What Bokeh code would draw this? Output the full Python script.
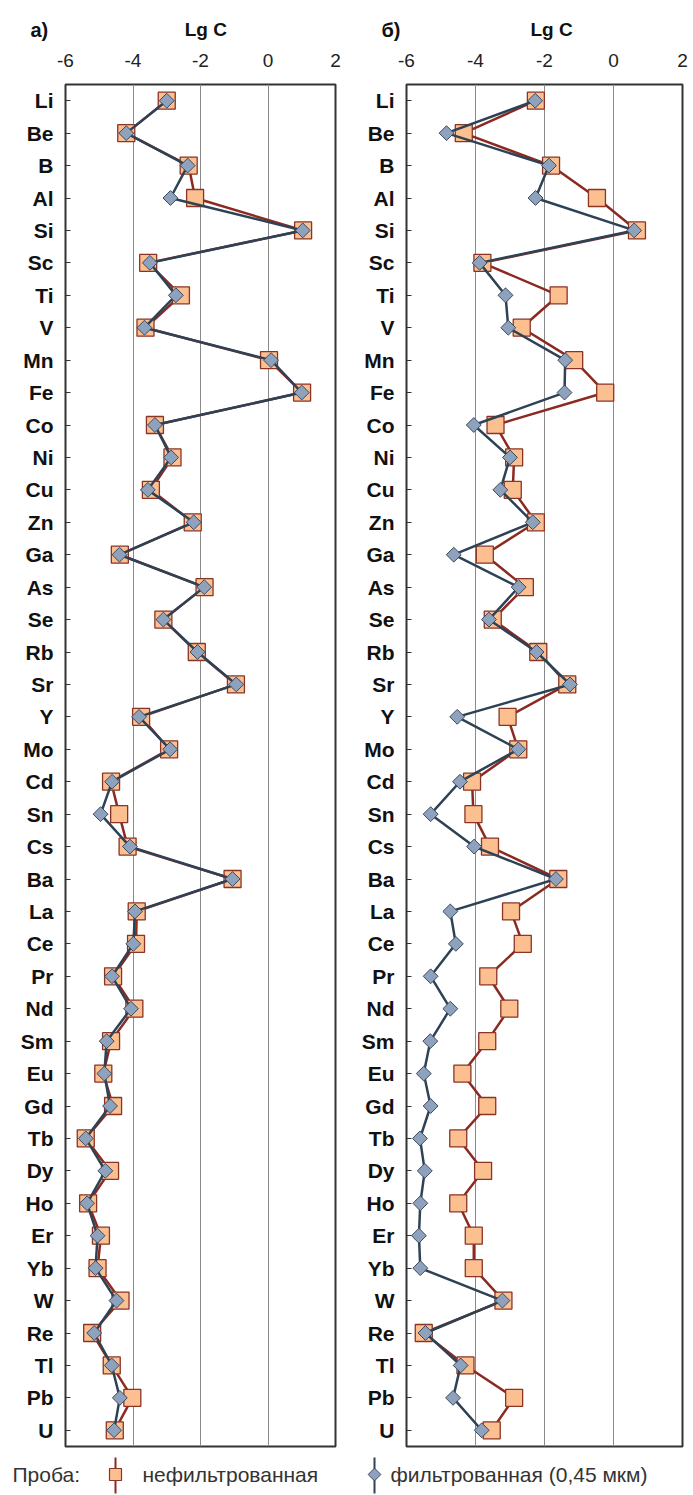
import numpy as np
from bokeh.plotting import figure
from bokeh.models import Range1d, FactorRange, FixedTicker, ColumnDataSource
from bokeh.layouts import column, row
from bokeh.embed import file_html
from bokeh.resources import INLINE
from bokeh.core.properties import value

elements = ["Li", "Be", "B", "Al", "Si", "Sc", "Ti", "V", "Mn", "Fe", "Co", "Ni", "Cu", "Zn",
            "Ga", "As", "Se", "Rb", "Sr", "Y", "Mo", "Cd", "Sn", "Cs", "Ba", "La", "Ce", "Pr",
            "Nd", "Sm", "Eu", "Gd", "Tb", "Dy", "Ho", "Er", "Yb", "W", "Re", "Tl", "Pb", "U"]

# panel а) : lg C, unfiltered / filtered (0.45 um)
a_unfiltered = [-3.0, -4.2, -2.35, -2.16, 1.04, -3.55, -2.58, -3.63, 0.03, 1.01, -3.35, -2.83, -3.47, -2.23,
                -4.39, -1.88, -3.10, -2.11, -0.95, -3.76, -2.93, -4.65, -4.41, -4.16, -1.05, -3.89, -3.91, -4.59,
                -3.96, -4.65, -4.88, -4.59, -5.40, -4.68, -5.33, -4.95, -5.05, -4.37, -5.21, -4.63, -4.02, -4.54]
a_filtered = [-3.0, -4.2, -2.38, -2.89, 1.03, -3.50, -2.73, -3.66, 0.09, 1.00, -3.35, -2.87, -3.56, -2.20,
              -4.40, -1.89, -3.10, -2.09, -0.94, -3.82, -2.90, -4.62, -4.96, -4.09, -1.05, -3.94, -3.99, -4.62,
              -4.06, -4.78, -4.85, -4.68, -5.40, -4.82, -5.36, -5.05, -5.11, -4.49, -5.15, -4.63, -4.39, -4.56]

# panel б)
b_unfiltered = [-2.25, -4.34, -1.81, -0.48, 0.68, -3.80, -1.59, -2.66, -1.14, -0.24, -3.42, -2.88, -2.92, -2.25,
                -3.73, -2.57, -3.50, -2.18, -1.34, -3.07, -2.76, -4.10, -4.06, -3.58, -1.60, -2.97, -2.63, -3.63,
                -3.02, -3.66, -4.38, -3.66, -4.50, -3.78, -4.50, -4.05, -4.05, -3.19, -5.50, -4.29, -2.88, -3.53]
b_filtered = [-2.27, -4.84, -1.87, -2.26, 0.60, -3.88, -3.13, -3.05, -1.40, -1.42, -4.05, -3.00, -3.28, -2.34,
              -4.63, -2.75, -3.61, -2.23, -1.26, -4.53, -2.76, -4.45, -5.30, -4.04, -1.67, -4.73, -4.57, -5.30,
              -4.73, -5.31, -5.50, -5.30, -5.61, -5.47, -5.60, -5.64, -5.60, -3.22, -5.45, -4.43, -4.65, -3.82]

x_ticks = [-6, -4, -2, 0, 2]
grid_ticks = [-4, -2, 0]
panel_letters = ["а)", "б)"]
axis_titles = ["Lg  C", "Lg C"]
legend_title = "Проба:"
legend_labels = ["нефильтрованная", "фильтрованная (0,45 мкм)"]

FONT = "Liberation Sans"
RED_LINE = "#8c2a22"
SQ_FILL = "#fbbf90"
SQ_EDGE = "#8a3426"
BLUE_LINE = "#2e4255"
DI_FILL = "#8fa2bd"
DI_EDGE = "#3b4a5e"

W = 691
HEAD = 42
FH = 1362
TOP = 42


def make_panel(unf, fil, fw, bl, br):
    src = ColumnDataSource(dict(el=elements, unf=unf, fil=fil))
    p = figure(frame_width=fw, frame_height=FH,
               x_range=Range1d(-6, 2), y_range=FactorRange(factors=elements[::-1]),
               x_axis_location="above", output_backend="svg", toolbar_location=None,
               min_border_left=bl, min_border_right=br, min_border_top=TOP, min_border_bottom=8,
               background_fill_color="white", border_fill_color="white")
    p.outline_line_color = "#333333"
    p.outline_line_width = 2

    xa = p.xaxis[0]
    xa.ticker = FixedTicker(ticks=x_ticks)
    xa.major_label_overrides = {t: str(t) for t in x_ticks}
    xa.major_tick_in = 0
    xa.major_tick_out = 0
    xa.minor_tick_in = 0
    xa.minor_tick_out = 0
    xa.axis_line_color = None
    xa.major_label_text_font = FONT
    xa.major_label_text_font_size = "19px"
    xa.major_label_text_color = "#222222"
    xa.major_label_standoff = 18

    ya = p.yaxis[0]
    ya.major_tick_in = 5
    ya.major_tick_out = 0
    ya.major_tick_line_color = "#333333"
    ya.axis_line_color = None
    ya.major_label_text_font = FONT
    ya.major_label_text_font_size = "21px"
    ya.major_label_text_font_style = "bold"
    ya.major_label_text_color = "#111111"
    ya.major_label_standoff = 12

    p.xgrid.ticker = FixedTicker(ticks=grid_ticks)
    p.xgrid.grid_line_color = "#8a8a8a"
    p.xgrid.grid_line_width = 1
    p.ygrid.grid_line_color = None

    p.line("unf", "el", source=src, line_color=RED_LINE, line_width=2.5)
    p.scatter("unf", "el", source=src, marker="square", size=17,
              fill_color=SQ_FILL, line_color=SQ_EDGE, line_width=1.3)
    p.line("fil", "el", source=src, line_color=BLUE_LINE, line_width=2.5)
    p.scatter("fil", "el", source=src, marker="square", angle=np.pi / 4, size=10.5,
              fill_color=DI_FILL, line_color=DI_EDGE, line_width=1)
    return p


def strip(h):
    f = figure(width=W, height=h, x_range=Range1d(0, W), y_range=Range1d(0, h),
               output_backend="svg", toolbar_location=None, min_border=0,
               background_fill_color="white", border_fill_color="white")
    f.axis.visible = False
    f.grid.visible = False
    f.outline_line_color = None
    return f


# header strip: panel letters and axis titles
hd = strip(HEAD)
hd.text(x=[30, 381], y=[13, 13], text=panel_letters, text_font=value(FONT), text_font_size="20px",
        text_font_style="bold", text_color="#111111", text_baseline="middle", text_align="left")
hd.text(x=[208, 551], y=[13, 13], text=axis_titles, text_font=value(FONT), text_font_size="19px",
        text_font_style="bold", text_color="#111111", text_baseline="middle", text_align="center")

pa = make_panel(a_unfiltered, a_filtered, 270, 65, 10)
pb = make_panel(b_unfiltered, b_filtered, 276, 61, 6)

# legend strip
LH = 41
lg = strip(LH)
ym = 21
lg.text(x=[12], y=[ym], text=[legend_title], text_font=value(FONT), text_font_size="21px",
        text_color="#333333", text_baseline="middle", text_align="left")
lg.segment(x0=[115, 374], y0=[2, 2], x1=[115, 374], y1=[38, 38],
           line_color=[RED_LINE, BLUE_LINE], line_width=2)
lg.scatter(x=[115], y=[ym], marker="square", size=12, fill_color=SQ_FILL, line_color=SQ_EDGE, line_width=1.2)
lg.scatter(x=[374], y=[ym], marker="square", angle=np.pi / 4, size=9,
           fill_color=DI_FILL, line_color=DI_EDGE, line_width=1)
lg.text(x=[142, 390], y=[ym, ym], text=legend_labels, text_font=value(FONT), text_font_size="21px",
        text_color="#333333", text_baseline="middle", text_align="left")

layout = column(hd, row(pa, pb), lg)
open("out.html", "w").write(file_html(layout, INLINE))
